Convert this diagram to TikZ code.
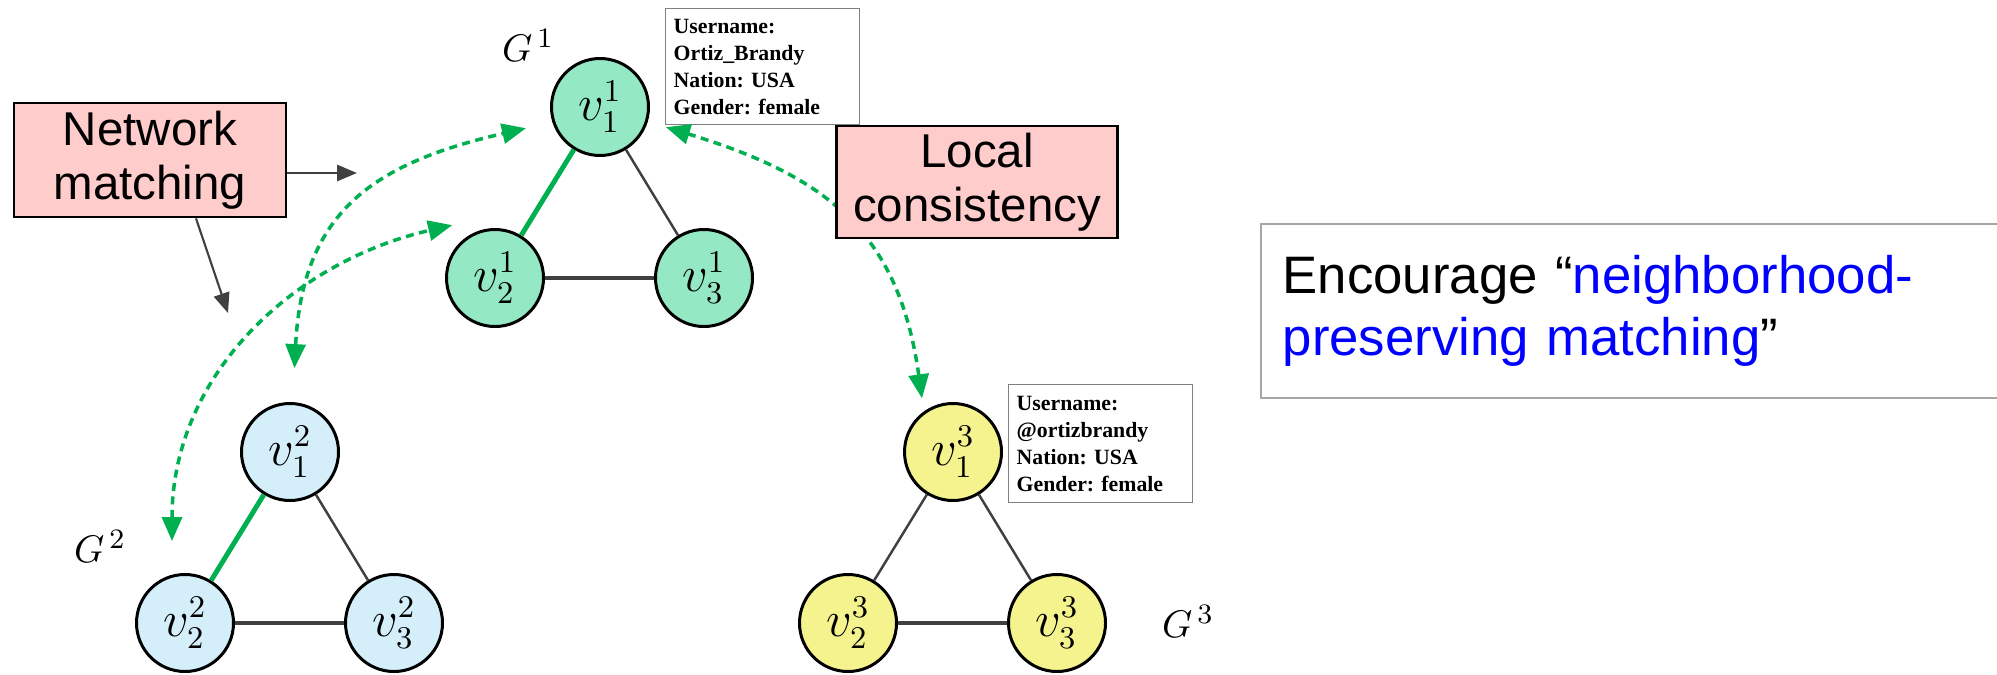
\documentclass[tikz,border=0pt]{standalone}
\usepackage{fontspec}
\newfontfamily\arialfont{Liberation Sans}
\newfontfamily\timesfont{Liberation Serif}
\usetikzlibrary{arrows.meta,calc,positioning}
\definecolor{Mint}{RGB}{148,232,196}
\definecolor{Sky}{RGB}{212,238,250}
\definecolor{Lemon}{RGB}{245,243,142}
\definecolor{Blush}{RGB}{255,204,204}
\definecolor{MatchGreen}{RGB}{0,176,80}
\definecolor{EdgeGray}{RGB}{64,64,64}

\begin{document}
\begin{tikzpicture}[x=0.1mm,y=0.1mm,
    vert/.style={circle,draw,line width=0.85pt,minimum size=9.7mm,inner sep=0pt,
      font=\fontsize{13.5}{15}\selectfont},
    edge/.style={EdgeGray,line width=0.7pt},
    info/.style={draw=gray,line width=0.4pt,fill=white,anchor=north west,align=left,
      inner xsep=0.8mm,inner ysep=0.6mm,
      font=\timesfont\bfseries\frenchspacing\fontsize{6.2}{7.7}\selectfont},
    tagbox/.style={draw,line width=0.8pt,fill=Blush,align=center,inner sep=0pt,
      font=\arialfont\fontsize{13.5}{15.5}\selectfont},
    pointer/.style={EdgeGray,-{Triangle[length=2mm,width=1.6mm]}},
    match/.style={MatchGreen,line width=1pt,dash pattern=on 0.8mm off 0.55mm,
      {Triangle[length=2.4mm,width=2mm]}-{Triangle[length=2.4mm,width=2mm]}}]
  \useasboundingbox (0,0) rectangle (1997,674);

  % three small networks
  \foreach \g/\x/\y/\col in {1/600/567/Mint,2/290/222/Sky,3/953/222/Lemon}{
    \node[vert,fill=\col] (v\g1) at (\x,\y) {$v_1^{\g}$};
    \node[vert,fill=\col] (v\g2) at (\x-105,\y-171) {$v_2^{\g}$};
    \node[vert,fill=\col] (v\g3) at (\x+104,\y-171) {$v_3^{\g}$};
  }
  \foreach \g in {1,2,3}{
    \draw[edge] (v\g1) -- (v\g3);
    \draw[edge,line width=0.9pt] (v\g2) -- (v\g3);
  }
  \draw[edge,MatchGreen,line width=1.4pt] (v11) -- (v12);
  \draw[edge,MatchGreen,line width=1.4pt] (v21) -- (v22);
  \draw[edge] (v31) -- (v32);

  \node[font=\fontsize{11}{13}\selectfont] (g1) at (528,629) {$G^{\,1}$};
  \node[font=\fontsize{11}{13}\selectfont] (g2) at (100,128) {$G^{\,2}$};
  \node[font=\fontsize{11}{13}\selectfont] (g3) at (1188,53) {$G^{\,3}$};

  \node[info,text width=17.8mm,minimum height=11.6mm] (prof1) at (665,666)
    {Username:\\Ortiz\_Brandy\\Nation: USA\\Gender: female};
  \node[info,text width=16.8mm,minimum height=11.8mm] (prof3) at (1008,290)
    {Username:\\@ortizbrandy\\Nation: USA\\Gender: female};

  % matched pairs
  \coordinate (p21) at ($(v21)+(87:84)$);
  \coordinate (p11) at ($(v11)+(196:77)$);
  \coordinate (p22) at ($(v22)+(99:83)$);
  \coordinate (p12) at ($(v12)+(129:68)$);
  \coordinate (p31) at ($(v31)+(120:62)$);
  \coordinate (q11) at ($(v11)+(-17:69)$);
  \draw[match] (p21) to[out=87,in=193,looseness=1.2] (p11);
  \draw[match] (p22) to[out=90,in=193] (p12);
  \draw[match] (p31) to[out=98,in=-17,looseness=1.15] (q11);

  \node[tagbox,minimum width=27.2mm,minimum height=11.4mm] (netmatch) at (150,514)
    {Network\\matching};
  \node[tagbox,minimum width=28.1mm,minimum height=11.2mm] (localcons) at (977,492)
    {Local\\consistency};

  \coordinate (nmR) at (357,501);
  \coordinate (nmD) at (228,361);
  \draw[pointer,line width=0.85pt] (netmatch.east |- nmR) -- (nmR);
  \draw[pointer,line width=0.6pt] ([xshift=4.6mm]netmatch.south) -- (nmD);

  \node[draw=gray!70,line width=0.45pt,anchor=west,align=left,text width=69.6mm,
    minimum height=17.4mm,inner xsep=2.2mm,font=\arialfont\fontsize{15}{17.6}\selectfont]
    (goal) at (1260,363)
    {Encourage “\textcolor{blue}{neighborhood-}\\\textcolor{blue}{preserving matching}”};
\end{tikzpicture}
\end{document}
